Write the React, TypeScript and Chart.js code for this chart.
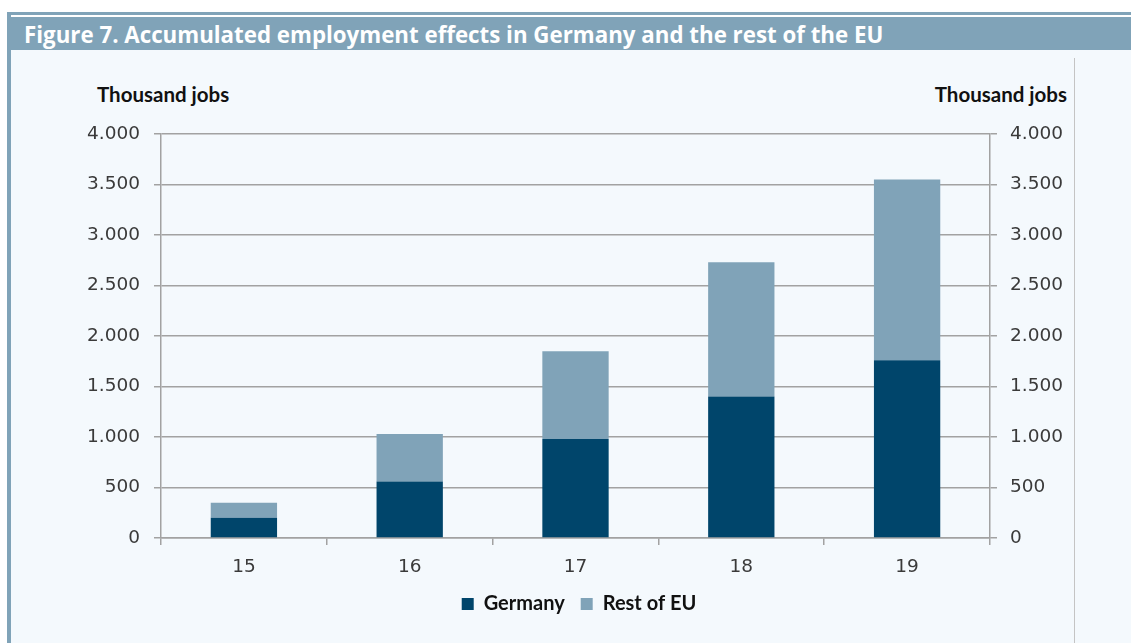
import React, { useEffect, useRef } from "react";
import { Chart, registerables } from "chart.js";

Chart.register(...registerables);

const categories = ["15", "16", "17", "18", "19"];
const germany = [200, 560, 980, 1400, 1760];
const restOfEU = [150, 470, 870, 1330, 1790];
const yMin = 0;
const yMax = 4000;
const yStep = 500;

const TITLE = "Figure 7. Accumulated employment effects in Germany and the rest of the EU";
const AXIS_TITLE = "Thousand jobs";

const fmt = (v: number) =>
  v >= 1000 ? Math.floor(v / 1000) + "." + String(v % 1000).padStart(3, "0") : String(v);

export default function App() {
  const ref = useRef<HTMLCanvasElement | null>(null);

  useEffect(() => {
    document.body.style.margin = "0";
    const canvas = ref.current;
    if (!canvas) return;
    const gridColor = "#a2a2a2";
    const tickFont = { family: "DejaVu Sans", size: 18.5, weight: "normal" as const };
    const tickColor = "#3a3a3a";
    const chart = new Chart(canvas, {
      type: "bar",
      data: {
        labels: categories,
        datasets: [
          {
            label: "Germany",
            data: germany,
            backgroundColor: "#00456b",
            categoryPercentage: 1,
            barPercentage: 0.4,
            yAxisID: "y",
          },
          {
            label: "Rest of EU",
            data: restOfEU,
            backgroundColor: "#80a3b8",
            categoryPercentage: 1,
            barPercentage: 0.4,
            yAxisID: "y",
          },
        ],
      },
      options: {
        responsive: false,
        animation: false,
        devicePixelRatio: 1,
        layout: { padding: { top: 84, left: 72, right: 0, bottom: 19 } },
        plugins: {
          tooltip: { enabled: false },
          legend: {
            position: "bottom",
            labels: {
              boxWidth: 12,
              boxHeight: 12,
              padding: 16,
              color: "#111",
              font: { family: "Lato", size: 20, weight: "bold" },
            },
          },
        },
        scales: {
          x: {
            stacked: true,
            offset: true,
            grid: {
              display: true,
              offset: true,
              drawOnChartArea: false,
              drawTicks: true,
              tickLength: 7,
              color: gridColor,
              lineWidth: 1.5,
            },
            border: { display: true, color: gridColor, width: 1.5 },
            ticks: { color: tickColor, font: tickFont, padding: 11 },
            afterFit: (s: any) => {
              s.height = 40;
            },
          },
          y: {
            stacked: true,
            position: "left",
            min: yMin,
            max: yMax,
            ticks: {
              stepSize: yStep,
              color: tickColor,
              font: tickFont,
              padding: 14,
              callback: (v: any) => fmt(Number(v)),
            },
            grid: {
              color: gridColor,
              lineWidth: 1.5,
              tickLength: 7,
              drawTicks: true,
            },
            border: { display: true, color: gridColor, width: 1.5 },
            afterFit: (s: any) => {
              s.width = 77;
            },
          },
          y2: {
            position: "right",
            min: yMin,
            max: yMax,
            ticks: {
              stepSize: yStep,
              color: tickColor,
              font: tickFont,
              padding: 13,
              callback: (v: any) => fmt(Number(v)),
            },
            grid: {
              drawOnChartArea: false,
              color: gridColor,
              lineWidth: 1.5,
              tickLength: 7,
            },
            border: { display: true, color: gridColor, width: 1.5 },
            afterFit: (s: any) => {
              s.width = 84;
            },
          },
        },
      },
    });
    return () => chart.destroy();
  }, []);

  const axisTitleStyle: React.CSSProperties = {
    position: "absolute",
    top: 82,
    fontFamily: "Lato, sans-serif",
    fontWeight: 700,
    fontSize: 20.5,
    letterSpacing: 0,
    color: "#111",
    whiteSpace: "nowrap",
  };

  return (
    <div style={{ position: "absolute", left: 0, top: 0, width: 1131, height: 643, background: "#ffffff", overflow: "hidden" }}>
      <div style={{ position: "absolute", left: 7, top: 12, width: 1124, height: 631, background: "#f4f9fd" }} />
      <div style={{ position: "absolute", left: 11, top: 12, width: 1120, height: 3, background: "#80a3b8" }} />
      <div style={{ position: "absolute", left: 11, top: 15, width: 1120, height: 2, background: "#ffffff" }} />
      <div style={{ position: "absolute", left: 7, top: 12, width: 4, height: 631, background: "#80a3b8" }} />
      <div
        style={{
          position: "absolute",
          left: 11,
          top: 17,
          width: 1120,
          height: 33,
          background: "#80a3b8",
          color: "#ffffff",
          fontFamily: "'Open Sans', sans-serif",
          fontWeight: 700,
          fontSize: 22.3,
          lineHeight: "35px",
          paddingLeft: 13,
          boxSizing: "border-box",
          whiteSpace: "nowrap",
        }}
      >
        {TITLE}
      </div>
      <div style={{ position: "absolute", left: 1074, top: 58, width: 1, height: 585, background: "#c4c4c4" }} />
      <div style={{ ...axisTitleStyle, left: 97 }}>{AXIS_TITLE}</div>
      <div style={{ ...axisTitleStyle, right: 1131 - 1067 }}>{AXIS_TITLE}</div>
      <canvas ref={ref} width={1062} height={593} style={{ position: "absolute", left: 12, top: 50, width: 1062, height: 593 }} />
    </div>
  );
}
